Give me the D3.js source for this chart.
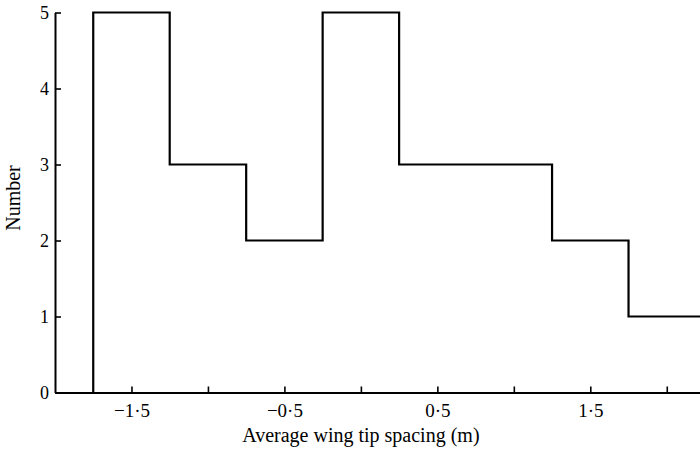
<!DOCTYPE html>
<html>
<head>
<meta charset="utf-8">
<script src="https://cdn.jsdelivr.net/npm/d3@7"></script>
<style>
  html, body { margin: 0; padding: 0; background: #fff; }
  svg { display: block; }
  text { font-family: "Liberation Serif", "DejaVu Serif", serif; fill: #000; }
</style>
</head>
<body>
<svg id="chart" width="700" height="451"></svg>
<script>
// Data
const binEdges = [-1.75, -1.25, -0.75, -0.25, 0.25, 0.75, 1.25, 1.75, 2.25];
const counts   = [5, 3, 2, 5, 3, 3, 2, 1];
const xTicks = [-1.5, -1, -0.5, 0, 0.5, 1, 1.5, 2];
const xTickLabels = ["−1·5", "", "−0·5", "", "0·5", "", "1·5", ""];
const yTicks = [0, 1, 2, 3, 4, 5];
const yTickLabels = ["0", "1", "2", "3", "4", "5"];
const xTitle = "Average wing tip spacing (m)";
const yTitle = "Number";

const svg = d3.select("#chart");
const x = d3.scaleLinear().domain([-2, 2.25]).range([55, 705]);
const y = d3.scaleLinear().domain([0, 5]).range([392.5, 12.5]);

// X axis
const xAxis = d3.axisBottom(x)
  .tickValues(xTicks)
  .tickFormat((d, i) => xTickLabels[i])
  .tickSizeInner(-6).tickSizeOuter(0).tickPadding(11);
const gx = svg.append("g").attr("transform", `translate(0,${y(0)})`).call(xAxis);

// Y axis
const yAxis = d3.axisLeft(y)
  .tickValues(yTicks)
  .tickFormat((d, i) => yTickLabels[i])
  .tickSizeInner(-6).tickSizeOuter(0).tickPadding(6);
const gy = svg.append("g").attr("transform", `translate(${x(-2)},0)`).call(yAxis);

[gx, gy].forEach(g => {
  g.selectAll("path.domain").attr("stroke", "#000").attr("stroke-width", 2);
  g.selectAll(".tick line").attr("stroke", "#000").attr("stroke-width", 1.6);
  g.selectAll(".tick text").style("font-family", '"Liberation Serif", serif').attr("fill", "#000");
});
gx.selectAll(".tick text").style("font-size", "19px");
gy.selectAll(".tick text").style("font-size", "18px");

// Histogram step outline
const pts = [[binEdges[0], 0]];
counts.forEach((c, i) => pts.push([binEdges[i], c]));
pts.push([binEdges[binEdges.length - 1], counts[counts.length - 1]]);
const line = d3.line().x(d => x(d[0])).y(d => y(d[1])).curve(d3.curveStepAfter);
svg.append("path")
  .attr("d", line(pts))
  .attr("fill", "none")
  .attr("stroke", "#000")
  .attr("stroke-width", 2.2)
  .attr("stroke-linejoin", "miter");

// Titles
svg.append("text")
  .attr("x", x(0)).attr("y", 442)
  .attr("text-anchor", "middle")
  .style("font-size", "20px")
  .text(xTitle);

svg.append("text")
  .attr("transform", `translate(20,198) rotate(-90)`)
  .attr("text-anchor", "middle")
  .style("font-size", "20px")
  .text(yTitle);
</script>
</body>
</html>
